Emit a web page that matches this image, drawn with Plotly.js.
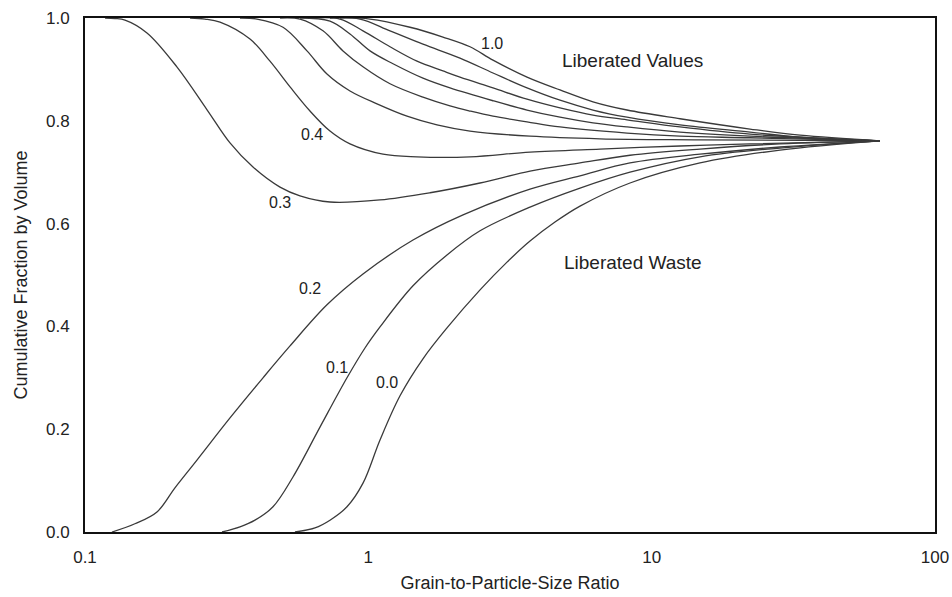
<!DOCTYPE html>
<html>
<head>
<meta charset="utf-8">
<script src="https://cdn.plot.ly/plotly-3.0.1.min.js"></script>
<style>html,body{margin:0;padding:0;background:#fff;}#chart{width:952px;height:597px;}</style>
</head>
<body>
<div id="chart"></div>
<script>
// Grain fraction labels of each curve
const curveLabels = ["1.0","0.9","0.8","0.7","0.6","0.5","0.4","0.3","0.2","0.1","0.0"];

// Curve data: grain-to-particle-size ratio (x) and cumulative fraction by volume (y)
const x10 = [0.794, 1.014, 1.403, 1.834, 2.285, 2.754, 3.631, 4.748, 6.207, 8.185, 12.59, 22.24, 33.39, 63.96];
const y10 = [1.0, 0.998, 0.982, 0.963, 0.944, 0.918, 0.885, 0.860, 0.837, 0.821, 0.804, 0.784, 0.772, 0.761];

const x09 = [0.7322, 0.9345, 1.1926, 1.559, 2.106, 2.754, 3.631, 4.748, 6.207, 8.185, 12.59, 22.24, 33.39, 63.96];
const y09 = [1.0, 0.998, 0.975, 0.949, 0.922, 0.893, 0.864, 0.840, 0.821, 0.807, 0.792, 0.778, 0.768, 0.761];

const x08 = [0.6482, 0.7943, 0.9576, 1.1926, 1.485, 1.834, 2.106, 2.754, 3.631, 4.748, 6.207, 8.185, 12.59, 22.24, 63.96];
const y08 = [1.0, 0.998, 0.975, 0.944, 0.916, 0.897, 0.885, 0.864, 0.842, 0.825, 0.811, 0.802, 0.788, 0.774, 0.761];

const x07 = [0.5738, 0.7322, 0.8616, 1.0137, 1.2221, 1.559, 1.942, 2.754, 3.631, 4.748, 6.207, 8.185, 12.59, 22.24, 63.96];
const y07 = [1.0, 0.994, 0.969, 0.936, 0.911, 0.883, 0.864, 0.839, 0.821, 0.807, 0.796, 0.788, 0.778, 0.770, 0.761];

const x06 = [0.4879, 0.5738, 0.6918, 0.8139, 0.9576, 1.1926, 1.559, 1.942, 2.285, 2.754, 3.631, 4.748, 8.185, 12.59, 22.24, 63.96];
const y06 = [1.0, 0.998, 0.975, 0.936, 0.905, 0.872, 0.846, 0.829, 0.819, 0.809, 0.798, 0.788, 0.776, 0.770, 0.767, 0.761];

const x05 = [0.3524, 0.4046, 0.4999, 0.6074, 0.7146, 0.8616, 1.073, 1.3694, 1.747, 2.285, 3.721, 6.570, 14.81, 63.96];
const y05 = [1.0, 0.998, 0.982, 0.936, 0.891, 0.858, 0.833, 0.809, 0.792, 0.780, 0.770, 0.765, 0.763, 0.761];

const x04 = [0.2348, 0.2652, 0.2996, 0.3823, 0.4497, 0.5292, 0.6224, 0.7322, 0.8616, 1.1266, 1.485, 2.285, 3.721, 6.570, 12.59, 22.24, 63.96];
const y04 = [1.0, 0.998, 0.992, 0.959, 0.916, 0.866, 0.819, 0.780, 0.755, 0.735, 0.730, 0.730, 0.739, 0.745, 0.751, 0.755, 0.761];

const x03 = [0.1177, 0.1276, 0.1384, 0.1655, 0.211, 0.270, 0.3249, 0.3917, 0.4879, 0.5738, 0.7322, 1.0995, 1.651, 2.479, 3.721, 5.587, 8.386, 14.81, 28.38, 63.96];
const y03 = [1.0, 0.999, 0.996, 0.971, 0.905, 0.821, 0.757, 0.710, 0.671, 0.654, 0.642, 0.646, 0.660, 0.679, 0.702, 0.718, 0.733, 0.745, 0.755, 0.761];

const x02 = [0.1245, 0.150, 0.1795, 0.2077, 0.2484, 0.3249, 0.4249, 0.5292, 0.7146, 0.9576, 1.4377, 2.159, 3.721, 5.587, 8.386, 14.81, 28.38, 63.96];
const y02 = [0.0, 0.016, 0.039, 0.086, 0.140, 0.222, 0.300, 0.362, 0.442, 0.502, 0.568, 0.617, 0.667, 0.693, 0.718, 0.735, 0.749, 0.761];

const x01 = [0.3045, 0.3524, 0.398, 0.4608, 0.542, 0.675, 0.8407, 0.973, 1.0995, 1.4377, 1.895, 2.479, 3.721, 5.587, 8.386, 14.81, 28.38, 63.96];
const y01 = [0.0, 0.010, 0.023, 0.049, 0.107, 0.204, 0.300, 0.358, 0.399, 0.479, 0.539, 0.586, 0.632, 0.669, 0.700, 0.730, 0.747, 0.761];

const x00 = [0.5509, 0.6482, 0.7322, 0.8407, 0.9576, 1.0995, 1.2937, 1.559, 1.895, 2.479, 3.086, 3.721, 4.558, 5.587, 8.386, 14.81, 28.38, 63.96];
const y00 = [0.0, 0.008, 0.023, 0.049, 0.095, 0.179, 0.265, 0.337, 0.397, 0.471, 0.525, 0.566, 0.603, 0.634, 0.679, 0.718, 0.743, 0.761];

const xSeries = [x10, x09, x08, x07, x06, x05, x04, x03, x02, x01, x00];
const ySeries = [y10, y09, y08, y07, y06, y05, y04, y03, y02, y01, y00];

// Tick labels
const xTickVals = [0.1, 1, 10, 100];
const xTickText = ["0.1", "1", "10", "100"];
const yTickVals = [0, 0.2, 0.4, 0.6, 0.8, 1.0];
const yTickText = ["0.0", "0.2", "0.4", "0.6", "0.8", "1.0"];

// Curve label anchors (ratio, fraction)
const labelText = ["1.0", "0.4", "0.3", "0.2", "0.1", "0.0"];
const labelX = [2.73, 0.635, 0.488, 0.622, 0.775, 1.164];
const labelY = [0.951, 0.774, 0.642, 0.473, 0.321, 0.290];
const regionText = ["Liberated Values", "Liberated Waste"];
const regionX = [8.59, 8.59];
const regionY = [0.918, 0.525];

const FONT = "Liberation Sans, Arial, sans-serif";
const ink = "#222";

const traces = xSeries.map((xs, i) => ({
  type: "scatter",
  mode: "lines",
  x: xs,
  y: ySeries[i],
  name: curveLabels[i],
  line: {color: "#3a3a3a", width: 1.3, shape: "spline", smoothing: 1.0},
  hoverinfo: "skip"
}));

const annotations = [];
labelText.forEach((t, i) => annotations.push({
  x: Math.log10(labelX[i]), y: labelY[i], xref: "x", yref: "y",
  text: t, showarrow: false, font: {family: FONT, size: 16, color: ink}
}));
regionText.forEach((t, i) => annotations.push({
  x: Math.log10(regionX[i]), y: regionY[i], xref: "x", yref: "y",
  text: t, showarrow: false, font: {family: FONT, size: 19, color: ink}
}));

const layout = {
  width: 952, height: 597,
  margin: {l: 85, r: 17, t: 18, b: 65},
  paper_bgcolor: "#fff", plot_bgcolor: "#fff",
  showlegend: false,
  font: {family: FONT, color: ink, size: 16},
  xaxis: {
    type: "log", range: [-1, 2],
    tickvals: xTickVals, ticktext: xTickText,
    showgrid: false, zeroline: false,
    showline: true, mirror: true, linecolor: "#111", linewidth: 2,
    ticks: "", ticklabelstandoff: 9,
    tickfont: {family: FONT, size: 17, color: ink},
    title: {text: "Grain-to-Particle-Size Ratio", font: {family: FONT, size: 18, color: ink}, standoff: 10}
  },
  yaxis: {
    range: [0, 1],
    tickvals: yTickVals, ticktext: yTickText,
    showgrid: false, zeroline: false,
    showline: true, mirror: true, linecolor: "#111", linewidth: 2,
    ticks: "", ticklabelstandoff: 10,
    tickfont: {family: FONT, size: 17, color: ink},
    title: {text: "Cumulative Fraction by Volume", font: {family: FONT, size: 18, color: ink}, standoff: 14}
  },
  annotations: annotations
};

Plotly.newPlot("chart", traces, layout, {staticPlot: true, displayModeBar: false});
</script>
</body>
</html>
